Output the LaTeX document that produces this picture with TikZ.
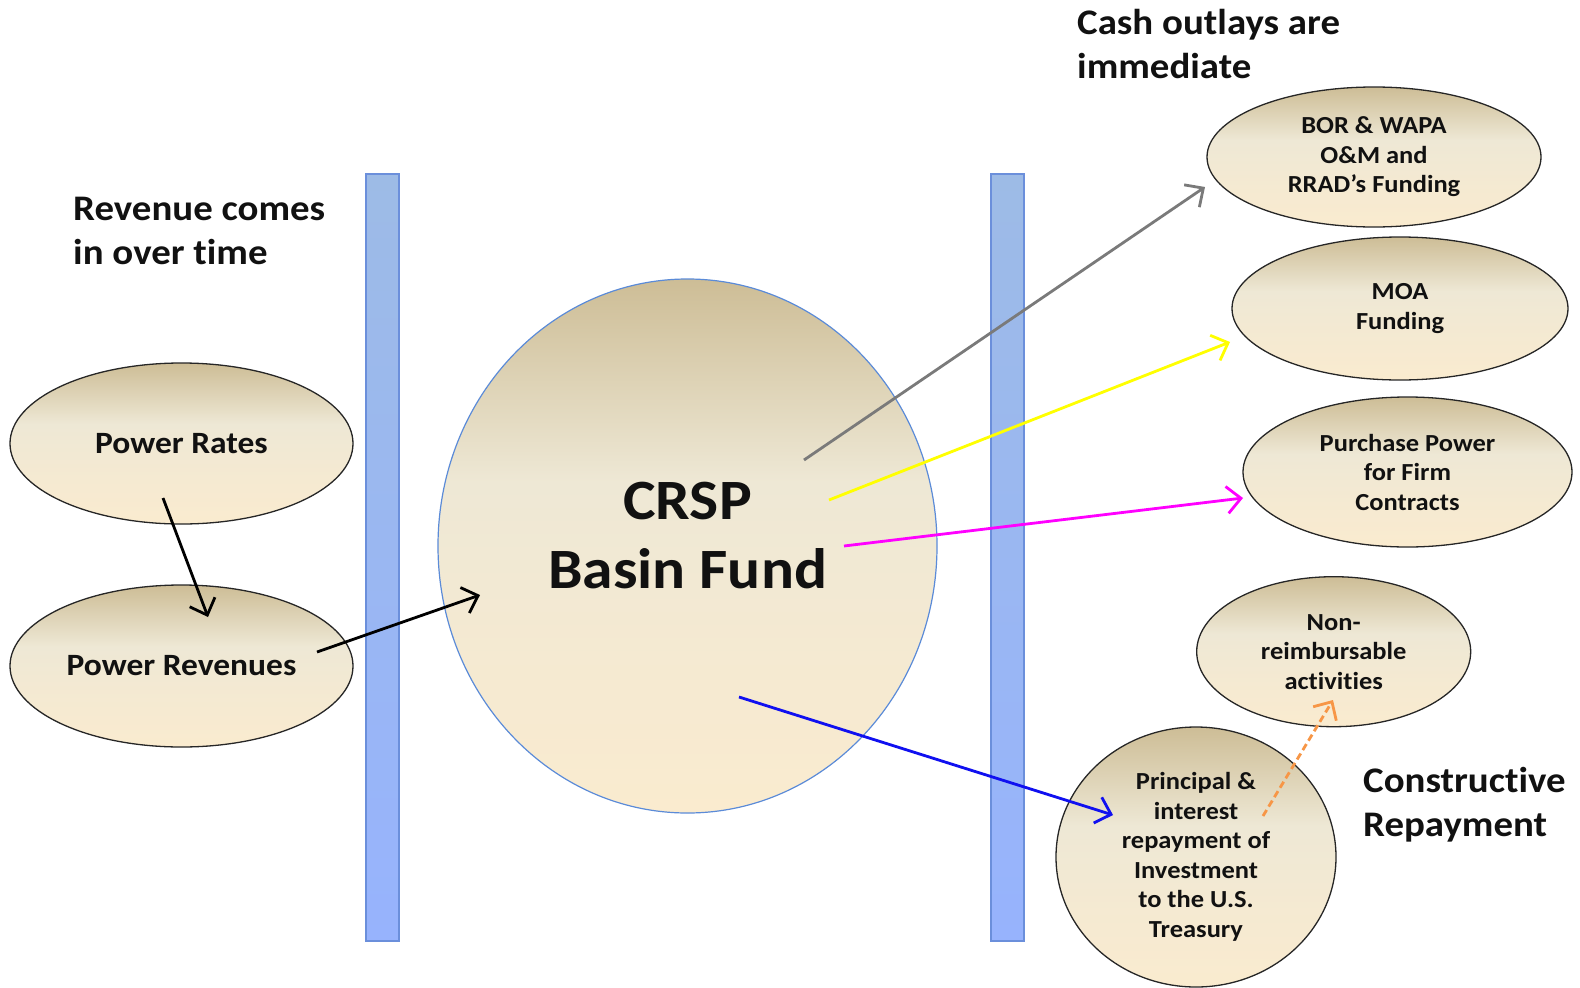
\documentclass[tikz,border=0pt]{standalone}
\usepackage{fontspec}
\setmainfont{Carlito}[FakeStretch=1.08, Ligatures=NoCommon]
\usetikzlibrary{shapes.geometric,arrows.meta,calc}

\definecolor{tanTop}{HTML}{CDBD96}
\definecolor{tanMid}{HTML}{EEE8D5}
\definecolor{tanBot}{HTML}{FAEBCF}
\definecolor{barTop}{HTML}{9DBBE6}
\definecolor{barBot}{HTML}{97B3FD}
\definecolor{barEdge}{HTML}{6B8FDB}
\definecolor{fundEdge}{HTML}{5B8BD8}
\definecolor{ink}{HTML}{111111}
\definecolor{outGray}{HTML}{7A7A7A}
\definecolor{outYellow}{HTML}{FFFF00}
\definecolor{outMagenta}{HTML}{FF00FF}
\definecolor{outBlue}{HTML}{1010F0}
\definecolor{outOrange}{HTML}{F79646}

% parchment fill: tan at the top, cream a third of the way down, peach at the bottom
\pgfdeclareverticalshading{parchment}{100bp}{%
  color(0bp)=(tanBot); color(25bp)=(tanBot); color(40bp)=(tanBot!55!tanMid);
  color(56bp)=(tanMid); color(75bp)=(tanTop); color(100bp)=(tanTop)}

\newcommand\bubblefont{\fontsize{24.5}{29.5}\selectfont\bfseries}
\newcommand\rowfont{\fontsize{31}{37}\selectfont\bfseries}
\newcommand\headfont{\fontsize{36}{44}\selectfont\bfseries}
\newcommand\fundfont{\fontsize{57}{69}\selectfont\bfseries}

\tikzset{
  x=1pt, y=-1pt,
  bubble/.style={ellipse, draw=black!85, line width=1.3pt,
    shading=parchment, inner sep=0pt, align=center, text=ink, font=\bubblefont},
  fundbubble/.style={ellipse, draw=fundEdge, line width=1.2pt,
    shading=parchment, inner sep=0pt},
  wall/.style={rectangle, draw=barEdge, line width=1.6pt,
    top color=barTop, bottom color=barBot, inner sep=0pt},
  heading/.style={anchor=north west, inner sep=0pt, align=left,
    text=ink, font=\headfont},
  flow/.style={line width=2.8pt, -{Straight Barb[length=14pt,width=27pt,line width=2.8pt]}},
}

\begin{document}
\begin{tikzpicture}
\useasboundingbox (0,0) rectangle (1580,988);

% timing walls
\node[wall, minimum width=33pt, minimum height=767pt] (wallL) at (382.5,557.5) {};
\node[wall, minimum width=33pt, minimum height=767pt] (wallR) at (1007.5,557.5) {};

% revenue side
\node[bubble, font=\rowfont, minimum width=343pt, minimum height=161pt] (rates) at (181.5,443.5) {Power Rates};
\node[bubble, font=\rowfont, minimum width=343pt, minimum height=162pt] (revenues) at (181.5,666) {Power Revenues};

% the fund
\node[fundbubble, minimum width=499pt, minimum height=534pt] (fund) at (687.5,546) {};
\node[inner sep=0pt, align=center, text=ink, font=\fundfont] (fundname) at ($(fund.center)+(0,-10)$) {CRSP\\Basin Fund};

% outlays
\node[bubble, minimum width=334pt, minimum height=140pt] (bor) at (1374,157) {BOR \& WAPA\\O\&M and\\RRAD’s Funding};
\node[bubble, minimum width=336pt, minimum height=143pt] (moa) at (1400,308.5) {MOA\\Funding};
\node[bubble, minimum width=329pt, minimum height=150pt] (purchase) at (1407.5,472) {Purchase Power\\for Firm\\Contracts};
\node[bubble, minimum width=274pt, minimum height=150pt] (nonreimb) at (1333.7,651.7) {Non-\\reimbursable\\activities};
\node[bubble, minimum width=280pt, minimum height=260pt] (principal) at (1196,857) {Principal \&\\interest\\repayment of\\Investment\\to the U.S.\\Treasury};

% headings
\node[heading] (cashhead) at (1077,9) {Cash outlays are\\immediate};
\node[heading] (revhead) at (73,197) {Revenue comes\\in over time};
\node[heading] (constructive) at (1363,767) {Constructive\\Repayment};

% flows
\draw[flow, black] ($(rates.center)+(-18.5,54.5)$) -- ($(revenues.center)+(26.5,-49)$);
\draw[flow, black] ($(revenues.center)+(135.5,-14)$) -- ($(fund.center)+(-207.5,49)$);
\draw[flow, outGray] ($(fund.center)+(116.5,-86)$) -- ($(bor.center)+(-169,30)$);
\draw[flow, outYellow] ($(fund.center)+(141.5,-46)$) -- ($(moa.center)+(-170,33.5)$);
\draw[flow, outMagenta] ($(fund.center)+(156.5,0)$) -- ($(purchase.center)+(-164.5,26)$);
\draw[flow, outBlue] ($(fund.center)+(51.5,151)$) -- ($(principal.center)+(-83,-42)$);
\draw[flow, outOrange, dash pattern=on 7pt off 4pt] ($(principal.center)+(67,-41)$) -- ($(nonreimb.center)+(-0.7,48.3)$);
\end{tikzpicture}
\end{document}
